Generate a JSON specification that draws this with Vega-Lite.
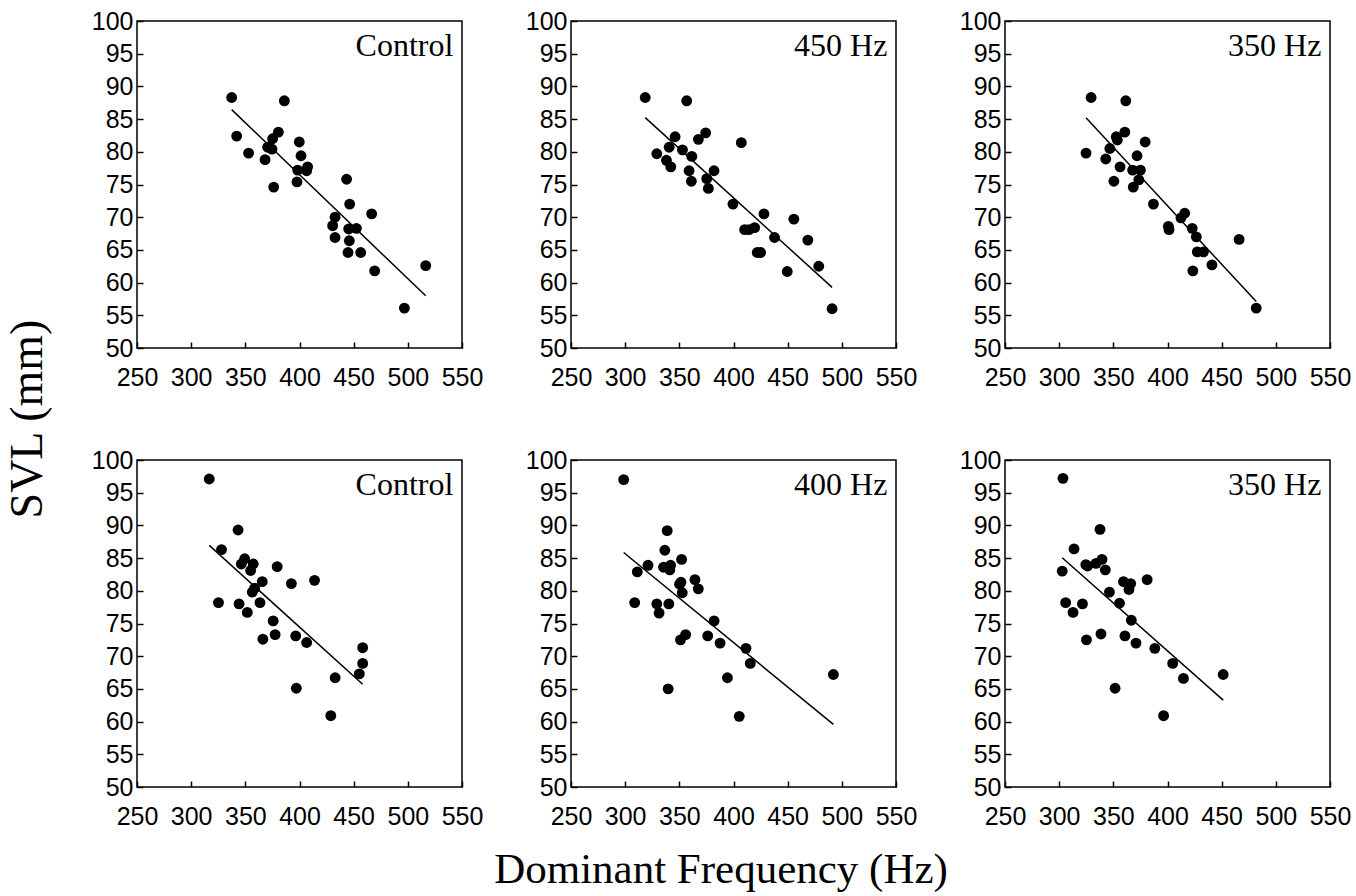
{
  "$schema": "https://vega.github.io/schema/vega-lite/v6.json",
  "background": "white",
  "padding": {"left": 5, "top": 8, "right": 5, "bottom": 0},
  "data": {"values": [
    {"r":1,"c":1,"cond":"Control","freq":337.4,"svl":88.3},
    {"r":1,"c":1,"cond":"Control","freq":342.0,"svl":82.4},
    {"r":1,"c":1,"cond":"Control","freq":353.0,"svl":79.8},
    {"r":1,"c":1,"cond":"Control","freq":368.2,"svl":78.8},
    {"r":1,"c":1,"cond":"Control","freq":370.6,"svl":80.7},
    {"r":1,"c":1,"cond":"Control","freq":375.2,"svl":82.0},
    {"r":1,"c":1,"cond":"Control","freq":374.6,"svl":80.4},
    {"r":1,"c":1,"cond":"Control","freq":376.2,"svl":74.6},
    {"r":1,"c":1,"cond":"Control","freq":380.5,"svl":83.0},
    {"r":1,"c":1,"cond":"Control","freq":386.0,"svl":87.8},
    {"r":1,"c":1,"cond":"Control","freq":399.8,"svl":81.5},
    {"r":1,"c":1,"cond":"Control","freq":401.4,"svl":79.4},
    {"r":1,"c":1,"cond":"Control","freq":398.3,"svl":77.2},
    {"r":1,"c":1,"cond":"Control","freq":397.7,"svl":75.4},
    {"r":1,"c":1,"cond":"Control","freq":407.5,"svl":77.7},
    {"r":1,"c":1,"cond":"Control","freq":406.6,"svl":77.1},
    {"r":1,"c":1,"cond":"Control","freq":443.5,"svl":75.8},
    {"r":1,"c":1,"cond":"Control","freq":446.3,"svl":72.0},
    {"r":1,"c":1,"cond":"Control","freq":432.8,"svl":70.0},
    {"r":1,"c":1,"cond":"Control","freq":430.6,"svl":68.7},
    {"r":1,"c":1,"cond":"Control","freq":432.8,"svl":66.9},
    {"r":1,"c":1,"cond":"Control","freq":445.4,"svl":68.2},
    {"r":1,"c":1,"cond":"Control","freq":452.5,"svl":68.3},
    {"r":1,"c":1,"cond":"Control","freq":446.0,"svl":66.4},
    {"r":1,"c":1,"cond":"Control","freq":444.8,"svl":64.6},
    {"r":1,"c":1,"cond":"Control","freq":456.5,"svl":64.6},
    {"r":1,"c":1,"cond":"Control","freq":466.6,"svl":70.5},
    {"r":1,"c":1,"cond":"Control","freq":469.4,"svl":61.8},
    {"r":1,"c":1,"cond":"Control","freq":496.8,"svl":56.1},
    {"r":1,"c":1,"cond":"Control","freq":516.5,"svl":62.6},

    {"r":1,"c":2,"cond":"450 Hz","freq":318.5,"svl":88.3},
    {"r":1,"c":2,"cond":"450 Hz","freq":329.2,"svl":79.7},
    {"r":1,"c":2,"cond":"450 Hz","freq":338.1,"svl":78.7},
    {"r":1,"c":2,"cond":"450 Hz","freq":340.6,"svl":80.7},
    {"r":1,"c":2,"cond":"450 Hz","freq":342.1,"svl":77.7},
    {"r":1,"c":2,"cond":"450 Hz","freq":346.1,"svl":82.3},
    {"r":1,"c":2,"cond":"450 Hz","freq":352.9,"svl":80.3},
    {"r":1,"c":2,"cond":"450 Hz","freq":356.8,"svl":87.8},
    {"r":1,"c":2,"cond":"450 Hz","freq":361.5,"svl":79.3},
    {"r":1,"c":2,"cond":"450 Hz","freq":359.0,"svl":77.1},
    {"r":1,"c":2,"cond":"450 Hz","freq":361.1,"svl":75.5},
    {"r":1,"c":2,"cond":"450 Hz","freq":367.6,"svl":81.9},
    {"r":1,"c":2,"cond":"450 Hz","freq":374.3,"svl":82.9},
    {"r":1,"c":2,"cond":"450 Hz","freq":375.3,"svl":75.9},
    {"r":1,"c":2,"cond":"450 Hz","freq":376.8,"svl":74.4},
    {"r":1,"c":2,"cond":"450 Hz","freq":382.0,"svl":77.1},
    {"r":1,"c":2,"cond":"450 Hz","freq":399.5,"svl":72.0},
    {"r":1,"c":2,"cond":"450 Hz","freq":407.2,"svl":81.4},
    {"r":1,"c":2,"cond":"450 Hz","freq":410.3,"svl":68.1},
    {"r":1,"c":2,"cond":"450 Hz","freq":414.3,"svl":68.1},
    {"r":1,"c":2,"cond":"450 Hz","freq":419.5,"svl":68.4},
    {"r":1,"c":2,"cond":"450 Hz","freq":421.9,"svl":64.6},
    {"r":1,"c":2,"cond":"450 Hz","freq":425.0,"svl":64.6},
    {"r":1,"c":2,"cond":"450 Hz","freq":428.1,"svl":70.5},
    {"r":1,"c":2,"cond":"450 Hz","freq":437.9,"svl":66.9},
    {"r":1,"c":2,"cond":"450 Hz","freq":455.7,"svl":69.7},
    {"r":1,"c":2,"cond":"450 Hz","freq":468.6,"svl":66.5},
    {"r":1,"c":2,"cond":"450 Hz","freq":449.6,"svl":61.7},
    {"r":1,"c":2,"cond":"450 Hz","freq":478.7,"svl":62.5},
    {"r":1,"c":2,"cond":"450 Hz","freq":491.0,"svl":56.0},

    {"r":1,"c":3,"cond":"350 Hz","freq":329.5,"svl":88.3},
    {"r":1,"c":3,"cond":"350 Hz","freq":361.5,"svl":87.8},
    {"r":1,"c":3,"cond":"350 Hz","freq":324.8,"svl":79.8},
    {"r":1,"c":3,"cond":"350 Hz","freq":343.0,"svl":78.9},
    {"r":1,"c":3,"cond":"350 Hz","freq":346.8,"svl":80.5},
    {"r":1,"c":3,"cond":"350 Hz","freq":352.7,"svl":82.3},
    {"r":1,"c":3,"cond":"350 Hz","freq":353.7,"svl":81.8},
    {"r":1,"c":3,"cond":"350 Hz","freq":360.6,"svl":83.0},
    {"r":1,"c":3,"cond":"350 Hz","freq":356.2,"svl":77.7},
    {"r":1,"c":3,"cond":"350 Hz","freq":350.5,"svl":75.5},
    {"r":1,"c":3,"cond":"350 Hz","freq":367.8,"svl":77.2},
    {"r":1,"c":3,"cond":"350 Hz","freq":368.4,"svl":74.6},
    {"r":1,"c":3,"cond":"350 Hz","freq":371.9,"svl":79.4},
    {"r":1,"c":3,"cond":"350 Hz","freq":375.0,"svl":77.2},
    {"r":1,"c":3,"cond":"350 Hz","freq":373.5,"svl":75.7},
    {"r":1,"c":3,"cond":"350 Hz","freq":379.4,"svl":81.5},
    {"r":1,"c":3,"cond":"350 Hz","freq":387.0,"svl":72.0},
    {"r":1,"c":3,"cond":"350 Hz","freq":400.8,"svl":68.6},
    {"r":1,"c":3,"cond":"350 Hz","freq":401.4,"svl":68.1},
    {"r":1,"c":3,"cond":"350 Hz","freq":412.4,"svl":69.9},
    {"r":1,"c":3,"cond":"350 Hz","freq":415.9,"svl":70.6},
    {"r":1,"c":3,"cond":"350 Hz","freq":422.8,"svl":68.3},
    {"r":1,"c":3,"cond":"350 Hz","freq":426.6,"svl":67.0},
    {"r":1,"c":3,"cond":"350 Hz","freq":427.5,"svl":64.7},
    {"r":1,"c":3,"cond":"350 Hz","freq":433.2,"svl":64.7},
    {"r":1,"c":3,"cond":"350 Hz","freq":441.0,"svl":62.7},
    {"r":1,"c":3,"cond":"350 Hz","freq":423.4,"svl":61.8},
    {"r":1,"c":3,"cond":"350 Hz","freq":466.1,"svl":66.6},
    {"r":1,"c":3,"cond":"350 Hz","freq":481.9,"svl":56.1},

    {"r":2,"c":1,"cond":"Control","freq":316.7,"svl":97.1},
    {"r":2,"c":1,"cond":"Control","freq":328.0,"svl":86.3},
    {"r":2,"c":1,"cond":"Control","freq":325.2,"svl":78.2},
    {"r":2,"c":1,"cond":"Control","freq":343.3,"svl":89.3},
    {"r":2,"c":1,"cond":"Control","freq":344.2,"svl":78.0},
    {"r":2,"c":1,"cond":"Control","freq":346.3,"svl":84.1},
    {"r":2,"c":1,"cond":"Control","freq":349.4,"svl":84.9},
    {"r":2,"c":1,"cond":"Control","freq":351.8,"svl":76.7},
    {"r":2,"c":1,"cond":"Control","freq":357.3,"svl":84.1},
    {"r":2,"c":1,"cond":"Control","freq":354.9,"svl":83.1},
    {"r":2,"c":1,"cond":"Control","freq":356.4,"svl":79.8},
    {"r":2,"c":1,"cond":"Control","freq":358.6,"svl":80.4},
    {"r":2,"c":1,"cond":"Control","freq":365.6,"svl":81.4},
    {"r":2,"c":1,"cond":"Control","freq":363.5,"svl":78.2},
    {"r":2,"c":1,"cond":"Control","freq":366.2,"svl":72.6},
    {"r":2,"c":1,"cond":"Control","freq":375.7,"svl":75.4},
    {"r":2,"c":1,"cond":"Control","freq":377.5,"svl":73.3},
    {"r":2,"c":1,"cond":"Control","freq":379.4,"svl":83.7},
    {"r":2,"c":1,"cond":"Control","freq":392.5,"svl":81.1},
    {"r":2,"c":1,"cond":"Control","freq":396.5,"svl":73.1},
    {"r":2,"c":1,"cond":"Control","freq":397.1,"svl":65.1},
    {"r":2,"c":1,"cond":"Control","freq":406.6,"svl":72.1},
    {"r":2,"c":1,"cond":"Control","freq":413.9,"svl":81.6},
    {"r":2,"c":1,"cond":"Control","freq":428.9,"svl":60.9},
    {"r":2,"c":1,"cond":"Control","freq":432.9,"svl":66.7},
    {"r":2,"c":1,"cond":"Control","freq":455.2,"svl":67.3},
    {"r":2,"c":1,"cond":"Control","freq":458.3,"svl":68.9},
    {"r":2,"c":1,"cond":"Control","freq":458.3,"svl":71.3},

    {"r":2,"c":2,"cond":"400 Hz","freq":298.6,"svl":97.0},
    {"r":2,"c":2,"cond":"400 Hz","freq":311.2,"svl":82.9},
    {"r":2,"c":2,"cond":"400 Hz","freq":308.8,"svl":78.2},
    {"r":2,"c":2,"cond":"400 Hz","freq":321.1,"svl":83.9},
    {"r":2,"c":2,"cond":"400 Hz","freq":329.2,"svl":78.0},
    {"r":2,"c":2,"cond":"400 Hz","freq":331.3,"svl":76.6},
    {"r":2,"c":2,"cond":"400 Hz","freq":338.8,"svl":89.2},
    {"r":2,"c":2,"cond":"400 Hz","freq":336.6,"svl":86.2},
    {"r":2,"c":2,"cond":"400 Hz","freq":335.4,"svl":83.6},
    {"r":2,"c":2,"cond":"400 Hz","freq":341.9,"svl":83.9},
    {"r":2,"c":2,"cond":"400 Hz","freq":341.2,"svl":83.2},
    {"r":2,"c":2,"cond":"400 Hz","freq":340.3,"svl":78.0},
    {"r":2,"c":2,"cond":"400 Hz","freq":339.7,"svl":65.0},
    {"r":2,"c":2,"cond":"400 Hz","freq":352.1,"svl":84.8},
    {"r":2,"c":2,"cond":"400 Hz","freq":351.5,"svl":81.3},
    {"r":2,"c":2,"cond":"400 Hz","freq":350.2,"svl":81.0},
    {"r":2,"c":2,"cond":"400 Hz","freq":352.7,"svl":79.7},
    {"r":2,"c":2,"cond":"400 Hz","freq":351.1,"svl":72.5},
    {"r":2,"c":2,"cond":"400 Hz","freq":355.8,"svl":73.3},
    {"r":2,"c":2,"cond":"400 Hz","freq":364.4,"svl":81.7},
    {"r":2,"c":2,"cond":"400 Hz","freq":367.5,"svl":80.3},
    {"r":2,"c":2,"cond":"400 Hz","freq":376.2,"svl":73.1},
    {"r":2,"c":2,"cond":"400 Hz","freq":382.1,"svl":75.4},
    {"r":2,"c":2,"cond":"400 Hz","freq":387.6,"svl":72.0},
    {"r":2,"c":2,"cond":"400 Hz","freq":394.4,"svl":66.7},
    {"r":2,"c":2,"cond":"400 Hz","freq":405.3,"svl":60.8},
    {"r":2,"c":2,"cond":"400 Hz","freq":411.5,"svl":71.2},
    {"r":2,"c":2,"cond":"400 Hz","freq":415.5,"svl":68.9},
    {"r":2,"c":2,"cond":"400 Hz","freq":492.2,"svl":67.2},

    {"r":2,"c":3,"cond":"350 Hz","freq":303.5,"svl":97.2},
    {"r":2,"c":3,"cond":"350 Hz","freq":302.8,"svl":83.0},
    {"r":2,"c":3,"cond":"350 Hz","freq":306.0,"svl":78.2},
    {"r":2,"c":3,"cond":"350 Hz","freq":312.8,"svl":76.7},
    {"r":2,"c":3,"cond":"350 Hz","freq":313.7,"svl":86.4},
    {"r":2,"c":3,"cond":"350 Hz","freq":321.5,"svl":78.0},
    {"r":2,"c":3,"cond":"350 Hz","freq":324.6,"svl":84.0},
    {"r":2,"c":3,"cond":"350 Hz","freq":326.2,"svl":83.8},
    {"r":2,"c":3,"cond":"350 Hz","freq":325.2,"svl":72.5},
    {"r":2,"c":3,"cond":"350 Hz","freq":334.0,"svl":84.2},
    {"r":2,"c":3,"cond":"350 Hz","freq":337.7,"svl":89.4},
    {"r":2,"c":3,"cond":"350 Hz","freq":339.5,"svl":84.8},
    {"r":2,"c":3,"cond":"350 Hz","freq":342.6,"svl":83.2},
    {"r":2,"c":3,"cond":"350 Hz","freq":338.6,"svl":73.4},
    {"r":2,"c":3,"cond":"350 Hz","freq":346.4,"svl":79.8},
    {"r":2,"c":3,"cond":"350 Hz","freq":355.7,"svl":78.1},
    {"r":2,"c":3,"cond":"350 Hz","freq":351.6,"svl":65.1},
    {"r":2,"c":3,"cond":"350 Hz","freq":359.4,"svl":81.4},
    {"r":2,"c":3,"cond":"350 Hz","freq":366.0,"svl":81.1},
    {"r":2,"c":3,"cond":"350 Hz","freq":364.4,"svl":80.2},
    {"r":2,"c":3,"cond":"350 Hz","freq":360.7,"svl":73.1},
    {"r":2,"c":3,"cond":"350 Hz","freq":366.6,"svl":75.5},
    {"r":2,"c":3,"cond":"350 Hz","freq":370.9,"svl":72.0},
    {"r":2,"c":3,"cond":"350 Hz","freq":381.2,"svl":81.7},
    {"r":2,"c":3,"cond":"350 Hz","freq":388.3,"svl":71.2},
    {"r":2,"c":3,"cond":"350 Hz","freq":404.8,"svl":68.9},
    {"r":2,"c":3,"cond":"350 Hz","freq":414.7,"svl":66.6},
    {"r":2,"c":3,"cond":"350 Hz","freq":396.4,"svl":60.9},
    {"r":2,"c":3,"cond":"350 Hz","freq":451.4,"svl":67.2}
  ]},
  "facet": {
    "row": {"field": "r", "type": "ordinal", "title": "SVL (mm)",
      "header": {"labels": false, "titleFont": "Liberation Serif", "titleFontSize": 46, "titleFontWeight": "normal", "titleColor": "black", "titlePadding": 28}},
    "column": {"field": "c", "type": "ordinal", "title": "Dominant Frequency (Hz)",
      "header": {"labels": false, "titleOrient": "bottom", "titleFont": "Liberation Serif", "titleFontSize": 43, "titleFontWeight": "normal", "titleColor": "black", "titlePadding": 9}}
  },
  "spacing": {"row": 56, "column": 40},
  "resolve": {"axis": {"x": "independent", "y": "independent"}},
  "spec": {
    "width": 325,
    "height": 327,
    "layer": [
      {
        "mark": {"type": "circle", "size": 118, "color": "black", "opacity": 1},
        "encoding": {
          "x": {"field": "freq", "type": "quantitative", "scale": {"domain": [250, 550], "nice": false, "zero": false},
            "axis": {"title": null, "values": [250, 300, 350, 400, 450, 500, 550], "tickCount": 7, "labelOverlap": false, "labelFlush": false,
              "labelFontSize": 25, "labelFont": "Liberation Sans", "labelPadding": 23, "tickSize": -6}},
          "y": {"field": "svl", "type": "quantitative", "scale": {"domain": [50, 100], "nice": false, "zero": false},
            "axis": {"title": null, "values": [50, 55, 60, 65, 70, 75, 80, 85, 90, 95, 100], "tickCount": 11, "labelOverlap": false, "labelFlush": false,
              "labelFontSize": 25, "labelFont": "Liberation Sans", "labelPadding": 10, "tickSize": -6}}
        }
      },
      {
        "transform": [{"regression": "svl", "on": "freq", "groupby": ["r", "c"]}],
        "mark": {"type": "line", "color": "black", "strokeWidth": 1.5},
        "encoding": {
          "x": {"field": "freq", "type": "quantitative"},
          "y": {"field": "svl", "type": "quantitative"}
        }
      },
      {
        "transform": [{"aggregate": [{"op": "count", "as": "n"}], "groupby": ["r", "c", "cond"]}],
        "mark": {"type": "text", "align": "right", "baseline": "alphabetic", "font": "Liberation Serif", "fontSize": 32, "color": "black"},
        "encoding": {
          "x": {"datum": 542, "type": "quantitative"},
          "y": {"datum": 94.6, "type": "quantitative"},
          "text": {"field": "cond", "type": "nominal"}
        }
      }
    ]
  },
  "config": {
    "view": {"stroke": "black", "strokeWidth": 1.5},
    "axis": {"domain": false, "grid": false, "ticks": true, "tickSize": -6, "tickColor": "black", "tickWidth": 1.5,
      "labelFont": "Liberation Sans", "labelFontSize": 25, "labelColor": "black", "labelFlush": false, "labelOverlap": false}
  }
}
